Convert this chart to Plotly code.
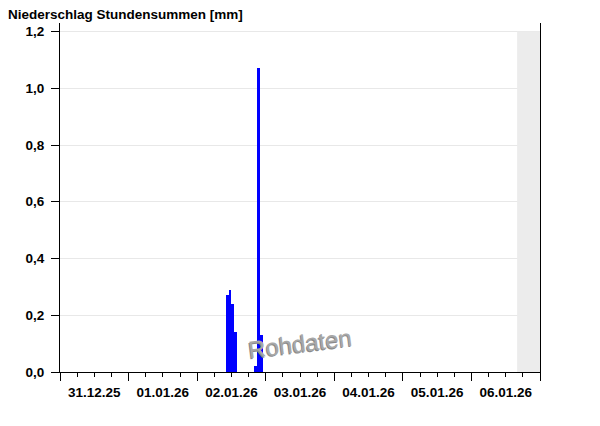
import plotly.graph_objects as go

# Data
hours = ["2026-01-02 10:00", "2026-01-02 11:00", "2026-01-02 12:00", "2026-01-02 13:00",
         "2026-01-02 20:00", "2026-01-02 21:00", "2026-01-02 22:00"]
precip = [0.27, 0.29, 0.24, 0.14, 0.02, 1.07, 0.13]
x_range = ["2025-12-31 00:00", "2026-01-07 00:00"]
nodata_span = ["2026-01-06 16:00", "2026-01-07 00:00"]
y_ticks = [0.0, 0.2, 0.4, 0.6, 0.8, 1.0, 1.2]
title_text = "Niederschlag Stundensummen [mm]"
watermark = "Rohdaten"

FONT = "Liberation Sans, Arial, sans-serif"
OFF = 8  # page body margin offset

fig = go.Figure()
fig.add_trace(go.Bar(
    x=hours, y=precip, width=3600000, offset=0,
    marker=dict(color="#0000FF", line=dict(width=0)),
    hoverinfo="x+y", showlegend=False,
))

fig.add_shape(type="rect", xref="x", yref="y",
              x0=nodata_span[0], x1=nodata_span[1], y0=0, y1=1.2,
              fillcolor="#ECECEC", line=dict(width=0), layer="between")

fig.add_annotation(text=watermark, x=(300 - 60) / 480, y=(372 - 343) / 349.5,
                   xref="paper", yref="paper", xanchor="center", yanchor="middle",
                   showarrow=False, textangle=-7,
                   font=dict(family=FONT, size=24, color="#a8a8a8",
                             shadow="-1px 1px 0px #8a8a8a"))

fig.update_layout(
    width=600 - OFF, height=426 - OFF,
    margin=dict(l=60 - OFF, r=60, t=22.5 - OFF, b=54, autoexpand=False),
    paper_bgcolor="white", plot_bgcolor="white",
    separators=",.",
    font=dict(family=FONT, size=13, color="black"),
    bargap=0,
    title=dict(text="<b>" + title_text + "</b>", x=0, xanchor="left",
               xref="container", y=1 - 2 / 418, yref="container", yanchor="top",
               pad=dict(l=0, r=0, t=0, b=0),
               font=dict(family=FONT, size=13.5, color="black")),
    xaxis=dict(
        type="date", range=x_range, automargin=False,
        showgrid=False, zeroline=False,
        showline=True, linecolor="black", linewidth=1,
        ticks="outside", ticklen=8, tickcolor="black", tickwidth=1,
        dtick=86400000, tick0="2025-12-31 00:00",
        tickformat="<b>%d.%m.%y</b>", ticklabelmode="period",
        tickfont=dict(family=FONT, size=13.5, color="black"),
        minor=dict(ticks="outside", ticklen=4, tickcolor="black", dtick=21600000,
                   tick0="2025-12-31 00:00", showgrid=False),
    ),
    yaxis=dict(
        range=[0, 1.23], tickvals=y_ticks, automargin=False,
        ticktext=["<b>" + f"{v:.1f}".replace(".", ",") + "</b>" for v in y_ticks],
        showgrid=True, gridcolor="#E8E8E8", gridwidth=1, zeroline=False,
        showline=True, linecolor="black", linewidth=1, mirror=True,
        ticks="outside", ticklen=8, tickcolor="black", ticklabelstandoff=4,
        tickfont=dict(family=FONT, size=13.5, color="black"),
    ),
)

fig.write_html("out.html")
